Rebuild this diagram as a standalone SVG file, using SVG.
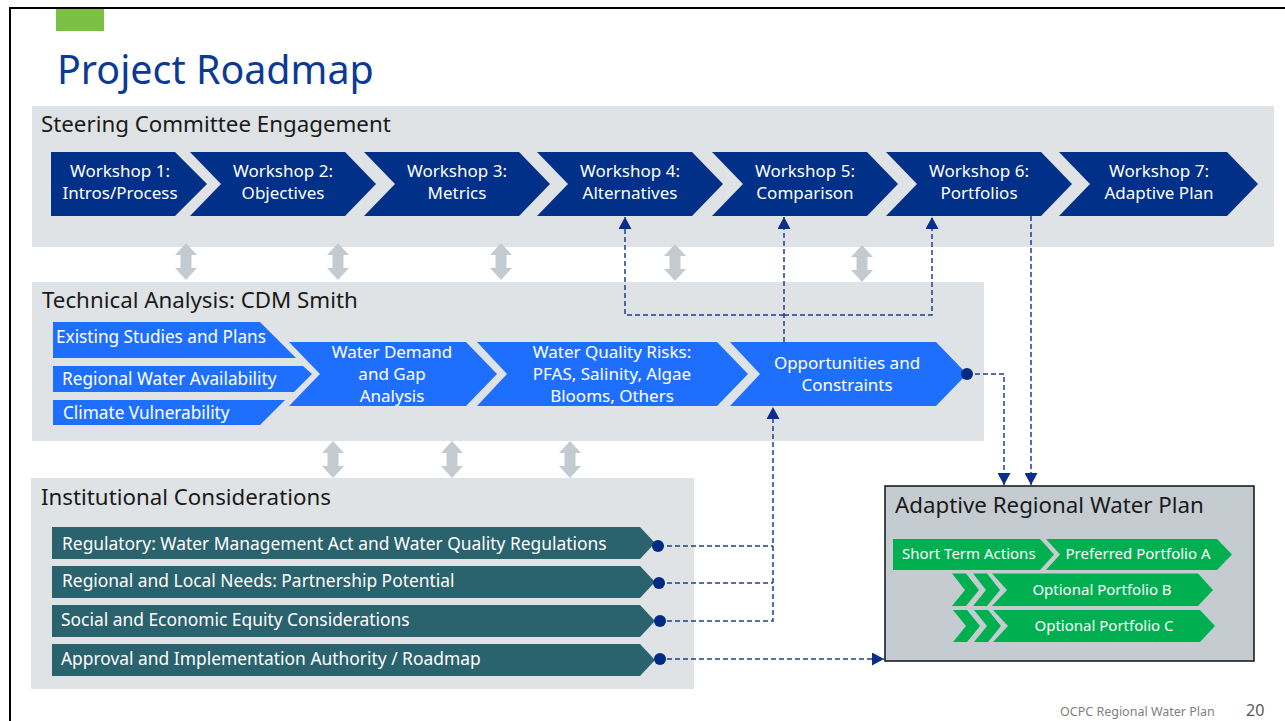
<svg xmlns="http://www.w3.org/2000/svg" xmlns:xlink="http://www.w3.org/1999/xlink" width="1285" height="721" viewBox="0 0 1285 721">
<style>
text{font-family:"Noto Sans","Liberation Sans",sans-serif}
.band{fill:#DFE3E6}
.hdr{font-size:22.3px;fill:#1a1a1a}
.ws{fill:#003087}
.wst{font-size:17px;fill:#fff;text-anchor:middle}
.tech{fill:#1F6FFF}
.tt{font-size:17.2px;fill:#fff}
.ttc{font-size:17px;fill:#fff;text-anchor:middle}
.inst{fill:#2A626E}
.it{font-size:17.4px;fill:#fff}
.grn{fill:#00B050}
.gt{font-size:15px;fill:#fff}
.gtc{font-size:15px;fill:#fff;text-anchor:middle}
.dbl{fill:#C4CBD0}
.dash{fill:none;stroke:#1F3F96;stroke-width:1.5;stroke-dasharray:5 3}
.dot{fill:#002B85}
</style>
<defs>
<marker id="ah" markerUnits="userSpaceOnUse" markerWidth="13" markerHeight="13" refX="12" refY="6.5" orient="auto">
<path d="M0,0 L12,6.5 L0,13 Z" fill="#0A2F8A"/>
</marker>
<path id="dblarrow" class="dbl" d="M0,0 L11,12 L5.5,12 L5.5,25 L11,25 L0,37 L-11,25 L-5.5,25 L-5.5,12 L-11,12 Z"/>
</defs>
<rect width="1285" height="721" fill="#fff"/>
<path d="M10,721 V8 H1285" fill="none" stroke="#000" stroke-width="2"/>
<rect x="56" y="9" width="48" height="22" fill="#7AC143"/>
<text x="57" y="84" font-size="39.4" fill="#0B3A94">Project Roadmap</text>

<g id="steering">
<rect class="band" x="32" y="106" width="1242" height="141"/>
<text class="hdr" x="41" y="132">Steering Committee Engagement</text>
</g>
<g id="ws1"><polygon class="ws" points="51,152 175,152 207,184 175,216 51,216"/>
<text class="wst" x="120" y="177">Workshop 1:</text><text class="wst" x="120" y="199">Intros/Process</text></g>
<g id="ws2"><polygon class="ws" points="190,152 345,152 376,184 345,216 190,216 221,184"/>
<text class="wst" x="283" y="177">Workshop 2:</text><text class="wst" x="283" y="199">Objectives</text></g>
<g id="ws3"><polygon class="ws" points="364,152 519,152 550,184 519,216 364,216 395,184"/>
<text class="wst" x="457" y="177">Workshop 3:</text><text class="wst" x="457" y="199">Metrics</text></g>
<g id="ws4"><polygon class="ws" points="537,152 692,152 723,184 692,216 537,216 568,184"/>
<text class="wst" x="630" y="177">Workshop 4:</text><text class="wst" x="630" y="199">Alternatives</text></g>
<g id="ws5"><polygon class="ws" points="712,152 867,152 898,184 867,216 712,216 743,184"/>
<text class="wst" x="805" y="177">Workshop 5:</text><text class="wst" x="805" y="199">Comparison</text></g>
<g id="ws6"><polygon class="ws" points="886,152 1041,152 1072,184 1041,216 886,216 917,184"/>
<text class="wst" x="979" y="177">Workshop 6:</text><text class="wst" x="979" y="199">Portfolios</text></g>
<g id="ws7"><polygon class="ws" points="1059,152 1227,152 1258,184 1227,216 1059,216 1090,184"/>
<text class="wst" x="1159" y="177">Workshop 7:</text><text class="wst" x="1159" y="199">Adaptive Plan</text></g>

<g id="technical">
<rect class="band" x="32" y="282" width="952" height="159"/>
<text class="hdr" x="42" y="308">Technical Analysis: CDM Smith</text>
</g>
<g id="existing"><polygon class="tech" points="53,322 260,322 296,358 53,358"/>
<text class="tt" x="56" y="343">Existing Studies and Plans</text></g>
<g id="regional"><polygon class="tech" points="53,366 303,366 312,374 294,392 53,392"/>
<text class="tt" x="62" y="385">Regional Water Availability</text></g>
<g id="climate"><polygon class="tech" points="53,400 285,400 260,425 53,425"/>
<text class="tt" x="63" y="419">Climate Vulnerability</text></g>
<g id="demand"><polygon class="tech" points="289,342 466,342 497,374 466,406 289,406 320,374"/>
<text class="ttc" x="392" y="358">Water Demand</text><text class="ttc" x="392" y="380">and Gap</text><text class="ttc" x="392" y="402">Analysis</text></g>
<g id="quality"><polygon class="tech" points="477,342 717,342 748,374 717,406 477,406 507,374"/>
<text class="ttc" x="612" y="358">Water Quality Risks:</text><text class="ttc" x="612" y="380">PFAS, Salinity, Algae</text><text class="ttc" x="612" y="402">Blooms, Others</text></g>
<g id="opportunities"><polygon class="tech" points="730,342 936,342 967,374 936,406 730,406 760,374"/>
<text class="ttc" x="847" y="369">Opportunities and</text><text class="ttc" x="847" y="391">Constraints</text></g>

<g id="institutional">
<rect class="band" x="31" y="478" width="663" height="211"/>
<text class="hdr" x="41" y="505">Institutional Considerations</text>
</g>
<g id="regulatory"><polygon class="inst" points="52,527 640,527 655,543 640,559 52,559"/>
<text class="it" x="62" y="550">Regulatory: Water Management Act and Water Quality Regulations</text></g>
<g id="needs"><polygon class="inst" points="52,566 640,566 655,582 640,598 52,598"/>
<text class="it" x="62" y="587">Regional and Local Needs: Partnership Potential</text></g>
<g id="equity"><polygon class="inst" points="52,605 640,605 655,621 640,637 52,637"/>
<text class="it" x="61" y="626">Social and Economic Equity Considerations</text></g>
<g id="approval"><polygon class="inst" points="52,644 640,644 655,660 640,676 52,676"/>
<text class="it" x="61" y="665">Approval and Implementation Authority / Roadmap</text></g>

<g id="adaptive">
<rect x="885" y="486" width="369" height="175" fill="#C5CCD1" stroke="#111" stroke-width="1.5"/>
<text class="hdr" x="895" y="513">Adaptive Regional Water Plan</text>
</g>
<g id="shortterm"><polygon class="grn" points="893,539 1040,539 1054,554.5 1040,570 893,570"/>
<text class="gt" x="902" y="559">Short Term Actions</text></g>
<g id="portfolioA"><polygon class="grn" points="1046,539 1217,539 1232,554.5 1217,570 1046,570 1060,554.5"/>
<text class="gtc" x="1138" y="559">Preferred Portfolio A</text></g>
<g id="portfolioB">
<polygon class="grn" points="952,573.5 966,573.5 979,590 966,606 952,606 965,590"/>
<polygon class="grn" points="973,573.5 987,573.5 1000,590 987,606 973,606 986,590"/>
<polygon class="grn" points="992,573.5 1198,573.5 1213,590 1198,606 992,606 1007,590"/>
<text class="gtc" x="1102" y="595">Optional Portfolio B</text></g>
<g id="portfolioC">
<polygon class="grn" points="953,610 967,610 980,626 967,642 953,642 966,626"/>
<polygon class="grn" points="974,610 988,610 1001,626 988,642 974,642 987,626"/>
<polygon class="grn" points="993,610 1200,610 1215,626 1200,642 993,642 1008,626"/>
<text class="gtc" x="1104" y="631">Optional Portfolio C</text></g>

<g id="exchange-arrows">
<use xlink:href="#dblarrow" x="186" y="243"/>
<use xlink:href="#dblarrow" x="338" y="243"/>
<use xlink:href="#dblarrow" x="501" y="243"/>
<use xlink:href="#dblarrow" x="675" y="244"/>
<use xlink:href="#dblarrow" x="862" y="245"/>
<use xlink:href="#dblarrow" x="333" y="441"/>
<use xlink:href="#dblarrow" x="452" y="441"/>
<use xlink:href="#dblarrow" x="570" y="441"/>
</g>

<g id="connectors">
<path class="dash" d="M784,342 V217" marker-end="url(#ah)"/>
<path class="dash" d="M784,315 H625 V217" marker-end="url(#ah)"/>
<path class="dash" d="M784,315 H932 V217" marker-end="url(#ah)"/>
<path class="dash" d="M1031,216 V485" marker-end="url(#ah)"/>
<path class="dash" d="M967,374 H1004 V485" marker-end="url(#ah)"/>
<path class="dash" d="M659,546 H773"/>
<path class="dash" d="M659,583 H773"/>
<path class="dash" d="M659,621 H773 V407" marker-end="url(#ah)"/>
<path class="dash" d="M659,659 H884" marker-end="url(#ah)"/>
<circle class="dot" cx="967" cy="374" r="6"/>
<circle class="dot" cx="658" cy="546" r="6"/>
<circle class="dot" cx="659" cy="583" r="6"/>
<circle class="dot" cx="660" cy="621" r="6"/>
<circle class="dot" cx="660" cy="659" r="6"/>
</g>

<text x="1060" y="716" font-size="12.5" fill="#808080">OCPC Regional Water Plan</text>
<text x="1246" y="716" font-size="16" fill="#595959">20</text>
</svg>
